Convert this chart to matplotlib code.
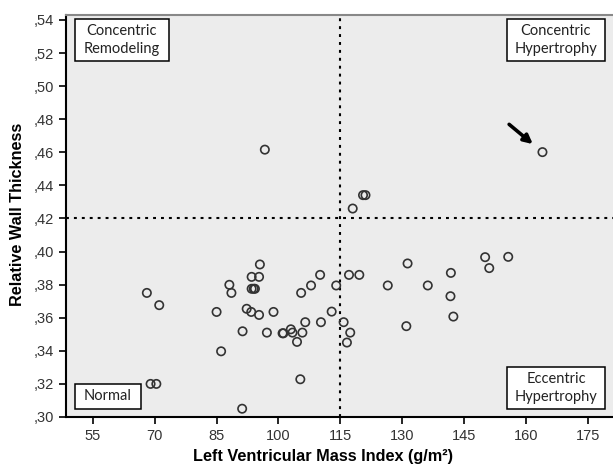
import matplotlib
matplotlib.use("Agg")
import matplotlib.pyplot as plt
from matplotlib.patches import Rectangle
from matplotlib.ticker import FuncFormatter, MultipleLocator

# LV mass index (g/m2) and relative wall thickness, one entry per patient
lvmi = [
    96.7, 164.0, 120.5, 121.1, 118.0, 68.1, 71.1, 69.0, 70.4, 91.2,
    86.1, 85.0, 88.1, 88.6, 95.5, 93.5, 95.3, 93.5, 94.0, 94.3,
    92.3, 93.4, 95.3, 91.3, 98.8, 97.2, 101.0, 101.2, 103.0, 103.4,
    104.5, 105.8, 105.3, 105.5, 106.5, 107.9, 110.1, 110.3, 112.9, 114.0,
    115.8, 117.4, 116.6, 117.1, 119.6, 126.5, 131.3, 131.0, 136.2, 141.8,
    141.7, 142.4, 150.1, 151.1, 155.7,
]
rwt = [
    0.4616, 0.4601, 0.4341, 0.4341, 0.4260, 0.3750, 0.3676, 0.3200, 0.3200, 0.3050,
    0.3397, 0.3635, 0.3799, 0.3750, 0.3922, 0.3847, 0.3847, 0.3775, 0.3775, 0.3775,
    0.3654, 0.3635, 0.3617, 0.3518, 0.3635, 0.3510, 0.3506, 0.3506, 0.3530, 0.3510,
    0.3454, 0.3510, 0.3228, 0.3750, 0.3573, 0.3795, 0.3859, 0.3573, 0.3637, 0.3795,
    0.3573, 0.3510, 0.3450, 0.3859, 0.3859, 0.3795, 0.3928, 0.3549, 0.3795, 0.3871,
    0.3730, 0.3607, 0.3966, 0.3900, 0.3968,
]

lvmi_cutoff = 115
rwt_cutoff = 0.42
highlight_index = 1  # the case marked with an arrow

x_ticks = [55, 70, 85, 100, 115, 130, 145, 160, 175]

# quadrant label boxes in axes fractions: (x0, y0, width, height)
quadrant_labels = [
    ("Concentric\nRemodeling", (0.0170, 0.8856, 0.1712, 0.1037)),
    ("Concentric\nHypertrophy", (0.8068, 0.8856, 0.1780, 0.1037)),
    ("Normal", (0.0170, 0.0199, 0.1206, 0.0622)),
    ("Eccentric\nHypertrophy", (0.8068, 0.0199, 0.1780, 0.1045)),
]

fig = plt.figure(figsize=(6.13, 4.68), dpi=100)
ax = fig.add_axes([0.107, 0.109, 0.893, 0.859])
ax.set_facecolor("#ececec")

ax.axvline(lvmi_cutoff, color="black", lw=1.5, ls=(0, (1.4, 2.4)), zorder=1)
ax.axhline(rwt_cutoff, color="black", lw=1.5, ls=(0, (1.4, 2.4)), zorder=1)

ax.scatter(lvmi, rwt, s=36, facecolors="none", edgecolors="#333333",
           linewidths=1.2, zorder=3)

ax.annotate("", xy=(lvmi[highlight_index], rwt[highlight_index]),
            xytext=(-24, 20), textcoords="offset points",
            arrowprops=dict(arrowstyle="-|>", color="black", lw=2.6,
                            mutation_scale=13, shrinkA=0, shrinkB=9))

for text, (bx, by, bw, bh) in quadrant_labels:
    ax.add_patch(Rectangle((bx, by), bw, bh, transform=ax.transAxes,
                           facecolor="white", edgecolor="black", lw=1.1,
                           zorder=5))
    ax.text(bx + bw / 2, by + bh / 2, text, transform=ax.transAxes,
            ha="center", va="center", multialignment="center",
            fontsize=10.5, family=["Lato", "DejaVu Sans"], color="#222222",
            linespacing=1.3, zorder=6)

ax.set_xlim(48.4, 181.1)
ax.set_ylim(0.30, 0.543)
ax.set_xticks(x_ticks)
ax.yaxis.set_major_locator(MultipleLocator(0.02))
ax.yaxis.set_major_formatter(
    FuncFormatter(lambda v, _: f"{v:.2f}".lstrip("0").replace(".", ",")))

ax.tick_params(direction="out", length=5, width=1.2, color="black",
               labelsize=10.5, labelcolor="#333333")
for lab in ax.get_xticklabels() + ax.get_yticklabels():
    lab.set_family(["Liberation Sans Narrow", "Liberation Sans", "DejaVu Sans"])

for side in ("left", "bottom"):
    ax.spines[side].set_color("black")
    ax.spines[side].set_linewidth(1.5)
ax.spines["top"].set_color("#888888")
ax.spines["top"].set_linewidth(1.5)
ax.spines["right"].set_visible(False)

ax.set_xlabel("Left Ventricular Mass Index (g/m²)", fontsize=11.7,
              fontweight="bold", family=["Liberation Sans", "DejaVu Sans"])
ax.set_ylabel("Relative Wall Thickness", fontsize=11.7,
              fontweight="bold", family=["Liberation Sans", "DejaVu Sans"])
ax.xaxis.set_label_coords(0.470, -0.080)
ax.yaxis.set_label_coords(-0.075, 0.505)

fig.savefig("out.png", dpi=100)
